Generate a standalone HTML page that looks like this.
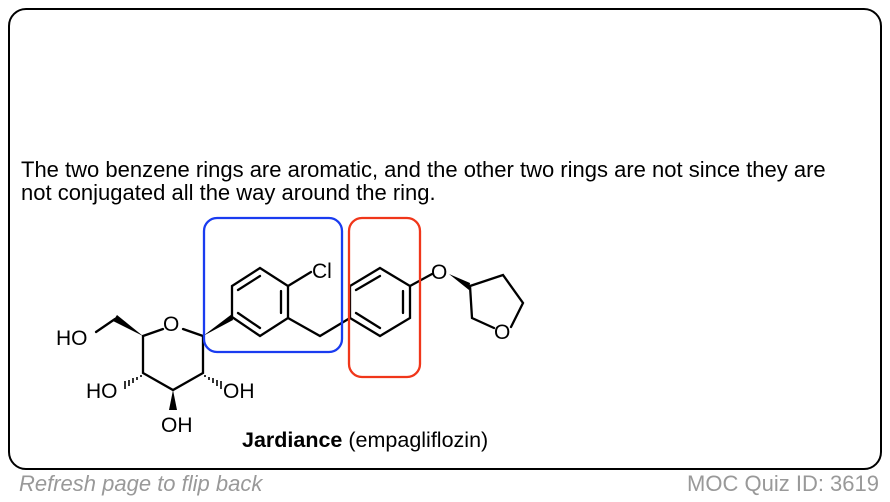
<!DOCTYPE html>
<html><head><style>
body{margin:0;width:890px;height:502px;background:#fff;position:relative;overflow:hidden;font-family:"Liberation Sans",Arial,sans-serif}
.frame{position:absolute;left:8px;top:8px;width:874px;height:462px;border:2px solid #000;border-radius:18px;box-sizing:border-box}
.t{position:absolute;left:21px;top:158px;font-size:22px;line-height:23px;color:#000}
.f{position:absolute;top:471px;font-size:22px;color:#999}
</style></head><body>
<div class="frame"></div>
<div class="t">The two benzene rings are aromatic, and the other two rings are not since they are<br>not conjugated all the way around the ring.</div>
<svg width="890" height="502" style="position:absolute;left:0;top:0" font-family="Liberation Sans, Arial, sans-serif">
<g stroke="#000" stroke-width="2.3" fill="none" stroke-linecap="round">
<path d="M163,329 L143,336 L143,373 L173,390 L203,373 L203,336 L183,329"/>
<path d="M96,332 L115,319"/>
<path d="M232,317 L232,286 L260,268 L288,286 L288,318 L260,336 Z"/>
<path d="M238,290 L260,276 M281,291 L281,313 M238,313 L260,328"/>
<path d="M288,286 L311,272"/>
<path d="M288,318 L320,336 L350,318"/>
<path d="M350,318 L350,286 L380,268 L410,286 L410,318 L380,336 Z"/>
<path d="M356,290 L380,276 M403,291 L403,313 M356,313 L380,328"/>
<path d="M410,286 L432,274"/>
<path d="M470,286 L503,275 L523,303 L511,327 M494,328 L472,318 L470,286"/>
</g>
<g fill="#000">
<polygon points="143,336 113,321 117,315"/>
<polygon points="203,336 232,314 233,320"/>
<polygon points="173,390 169,410 177,410"/>
<polygon points="449,274 470,283 469,290"/>
</g>
<g stroke="#000" stroke-width="1.6">
<path d="M141,375 L141,377 M137,377 L137,380 M133,378 L133,383 M129,380 L129,386 M125,381 L125,389"/>
<path d="M205,375 L205,377 M209,377 L209,380 M213,378 L213,383 M217,380 L217,386 M221,381 L221,389"/>
</g>
<g font-size="21" fill="#000">
<text x="163" y="331">O</text>
<text x="56" y="345">HO</text>
<text x="86" y="398">HO</text>
<text x="223" y="398">OH</text>
<text x="161" y="432">OH</text>
<text x="312" y="278">Cl</text>
<text x="431" y="279">O</text>
<text x="494" y="339">O</text>
</g>
<rect x="204" y="218" width="138" height="134" rx="13" fill="none" stroke="#1a3cf0" stroke-width="2.3"/>
<rect x="349" y="218" width="71" height="159" rx="13" fill="none" stroke="#f0361a" stroke-width="2.3"/>
<text x="242" y="447" font-size="21.5" fill="#000"><tspan font-weight="bold">Jardiance</tspan> (empagliflozin)</text>
</svg>
<div class="f" style="left:19px;font-style:italic">Refresh page to flip back</div>
<div class="f" style="right:11px">MOC Quiz ID: 3619</div>
</body></html>
